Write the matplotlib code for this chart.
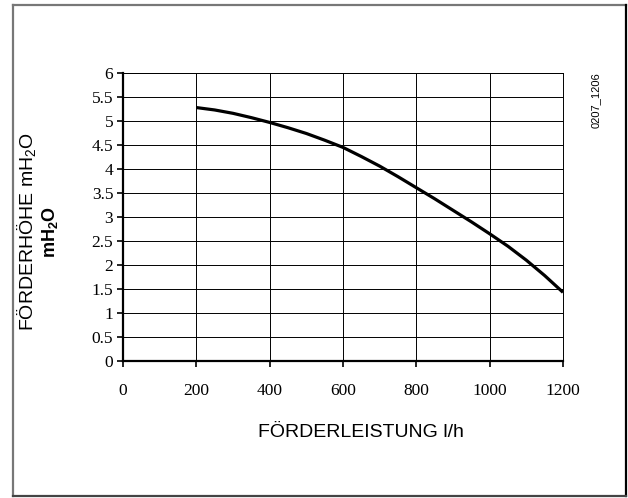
import matplotlib
matplotlib.use("Agg")
from matplotlib import pyplot as plt
from matplotlib.lines import Line2D

# pump curve
flow = [200, 250, 300, 350, 400, 450, 500, 550, 600, 650, 700, 750,
        800, 850, 900, 950, 1000, 1050, 1100, 1150, 1200]
head = [5.28, 5.23, 5.16, 5.07, 4.97, 4.86, 4.74, 4.60, 4.45, 4.26, 4.06, 3.84,
        3.61, 3.38, 3.14, 2.90, 2.65, 2.39, 2.10, 1.78, 1.43]

x_ticks = [0, 200, 400, 600, 800, 1000, 1200]
y_ticks = [0, 0.5, 1, 1.5, 2, 2.5, 3, 3.5, 4, 4.5, 5, 5.5, 6]
y_tick_labels = ["0", "0.5", "1", "1.5", "2", "2.5", "3", "3.5", "4", "4.5", "5", "5.5", "6"]

plt.rcParams["mathtext.fontset"] = "custom"
plt.rcParams["mathtext.rm"] = "Liberation Sans"
plt.rcParams["mathtext.bf"] = "Liberation Sans:bold"

fig = plt.figure(figsize=(6.28, 4.98), dpi=100)
ax = fig.add_axes([0.1959, 0.2751, 0.7006, 0.5783])

ax.plot(flow, head, color="black", lw=2.3, solid_capstyle="butt")

ax.set_xlim(0, 1200)
ax.set_ylim(0, 6)
ax.set_xticks(x_ticks)
ax.set_xticklabels([str(t) for t in x_ticks])
ax.set_yticks(y_ticks)
ax.set_yticklabels(y_tick_labels)
ax.grid(True, color="black", lw=0.7)
ax.set_axisbelow(True)

for lab in ax.get_xticklabels() + ax.get_yticklabels():
    lab.set_fontfamily("Liberation Serif")
    lab.set_fontsize(12.5)
ax.tick_params(axis="both", direction="out", length=4, width=1.2, color="black")
ax.tick_params(axis="x", pad=12)
ax.tick_params(axis="y", pad=3)

ax.spines["left"].set_linewidth(1.6)
ax.spines["bottom"].set_linewidth(1.6)
ax.spines["top"].set_linewidth(0.7)
ax.spines["right"].set_linewidth(0.7)

fig.text(361 / 628, 1 - 432 / 498, "FÖRDERLEISTUNG l/h", ha="center", va="center",
         fontsize=14, family="Liberation Sans")
fig.text(27 / 628, 1 - 232 / 498, r"FÖRDERHÖHE mH$_2$O", rotation=90, ha="center",
         va="center", fontsize=14, family="Liberation Sans")
fig.text(50 / 628, 1 - 232 / 498, r"$\mathbf{mH_2O}$", rotation=90, ha="center",
         va="center", fontsize=13, family="Liberation Sans", weight="bold")
fig.text(596 / 628, 1 - 100 / 498, "0207_1206", rotation=90, ha="center",
         va="center", fontsize=8, family="Liberation Sans")

# outer frame
x0, x1 = 12.5 / 628, 626 / 628
y0, y1 = 1 - 496 / 498, 1 - 5.5 / 498
fig.add_artist(Line2D([x0, x0], [y0, y1], transform=fig.transFigure, color="#777777", lw=1.6))
fig.add_artist(Line2D([x0, x1], [y1, y1], transform=fig.transFigure, color="#777777", lw=1.6))
fig.add_artist(Line2D([x1, x1], [y0, y1], transform=fig.transFigure, color="black", lw=1.6))
fig.add_artist(Line2D([x0, x1], [y0, y0], transform=fig.transFigure, color="#444444", lw=1.6))

fig.savefig("out.png", dpi=100)
